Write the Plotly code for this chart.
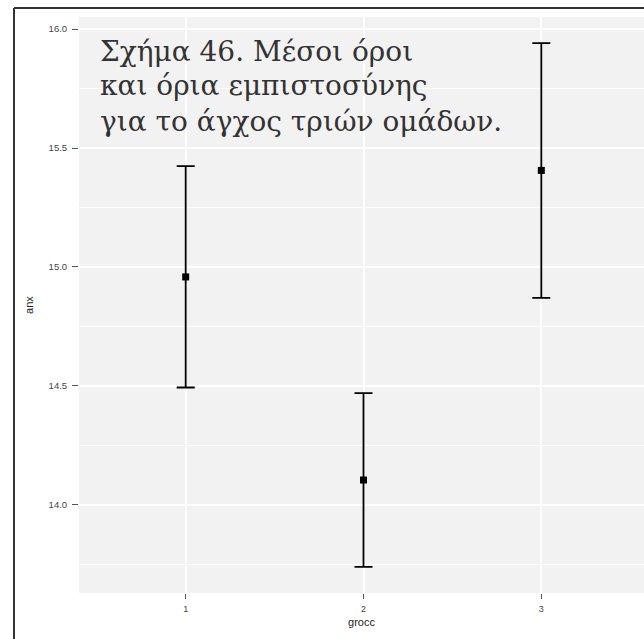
import plotly.graph_objects as go

# Group means of anxiety with their confidence limits
groups = ["1", "2", "3"]
means = [14.958, 14.104, 15.406]
lower = [14.493, 13.739, 14.870]
upper = [15.424, 14.469, 15.941]

y_ticks = [14.0, 14.5, 15.0, 15.5, 16.0]
y_tick_text = ["14.0", "14.5", "15.0", "15.5", "16.0"]

title_lines = ["Σχήμα 46. Μέσοι όροι", "και όρια εμπιστοσύνης", "για το άγχος τριών ομάδων."]

W, H = 644, 639
L, R, T, B = 79, 0, 17, 46
plot_w = W - L - R
plot_h = H - T - B

err_plus = [u - m for u, m in zip(upper, means)]
err_minus = [m - lo for m, lo in zip(means, lower)]

fig = go.Figure()
fig.add_trace(go.Scatter(
    x=groups, y=means, mode="markers",
    marker=dict(color="black", size=7, symbol="square"),
    error_y=dict(type="data", array=err_plus, arrayminus=err_minus,
                 color="black", thickness=1.8, width=9),
    showlegend=False, hoverinfo="skip",
))

# y range with 5% padding around the interval extremes
lo_all, hi_all = min(lower), max(upper)
pad = (hi_all - lo_all) * 0.05
y_range = [lo_all - pad, hi_all + pad]

# discrete axis padded 0.6 per side; the right side runs off the canvas
x_right = -0.6 + plot_w / (648 - 79) * 3.2

fig.update_layout(
    width=W, height=H,
    margin=dict(l=L, r=R, t=T, b=B, pad=0),
    paper_bgcolor="white",
    plot_bgcolor="#f2f2f2",
    font=dict(family="Liberation Sans, Arial, sans-serif", color="#4d4d4d"),
    xaxis=dict(
        type="category", range=[-0.6, x_right],
        showgrid=True, gridcolor="white", gridwidth=2,
        zeroline=False, showline=False,
        ticks="outside", ticklen=5, tickcolor="#555555", tickwidth=1,
        ticklabelstandoff=2,
        tickfont=dict(size=9, color="#444444"),
        title=dict(text="grocc", font=dict(size=11, color="#222222"), standoff=5),
    ),
    yaxis=dict(
        range=y_range,
        tickvals=y_ticks, ticktext=y_tick_text,
        showgrid=True, gridcolor="white", gridwidth=2,
        minor=dict(dtick=0.25, tick0=13.75, showgrid=True, gridcolor="white", gridwidth=1),
        zeroline=False, showline=False,
        ticks="outside", ticklen=6, tickcolor="#555555", tickwidth=1,
        ticklabelstandoff=3,
        tickfont=dict(size=9.5, color="#444444"),
        title=dict(text="anx", font=dict(size=11, color="#222222"), standoff=12),
    ),
)

# outer frame lines (left and top edges)
fx = (14 - L) / plot_w
fy = 1 + (T - 8) / plot_h
frame = dict(type="line", xref="paper", yref="paper", line=dict(color="#333333", width=2), layer="above")
fig.add_shape(**frame, x0=fx, x1=fx, y0=-0.2, y1=fy)
fig.add_shape(**frame, x0=fx, x1=1.05, y0=fy, y1=fy)

# caption inside the panel, one annotation per line
line_centres = [51, 86, 121]
for text, yc in zip(title_lines, line_centres):
    fig.add_annotation(
        xref="paper", yref="paper",
        x=(98 - L) / plot_w, y=1 - (yc - T) / plot_h,
        xanchor="left", yanchor="middle", align="left",
        text=text, showarrow=False,
        font=dict(family="DejaVu Serif, serif", size=28, color="#333333"),
    )

fig.write_html("out.html")
